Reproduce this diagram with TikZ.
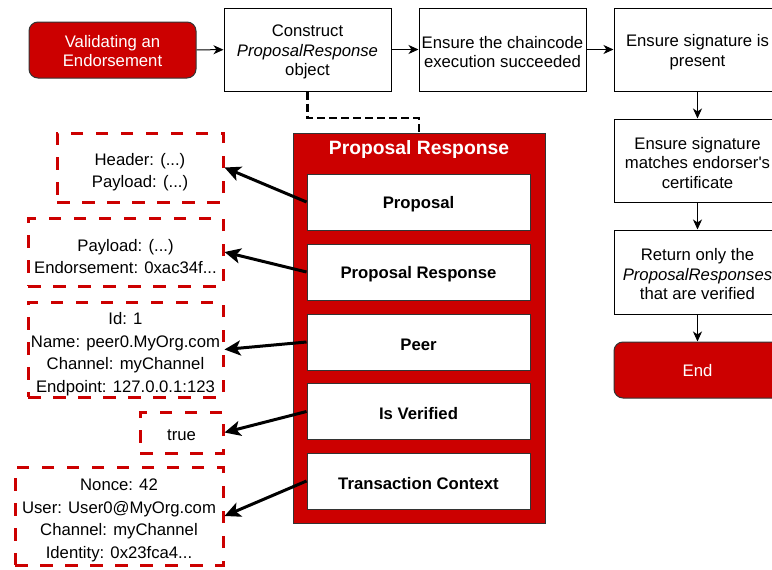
\documentclass[tikz,border=0pt]{standalone}
\usepackage{fontspec}
\setmainfont{Liberation Sans}
\usetikzlibrary{arrows.meta}
\definecolor{hfred}{HTML}{CC0000}
\definecolor{edgegray}{HTML}{333333}
\begin{document}
\begin{tikzpicture}[x=1pt,y=-1pt,
  txt/.style={inner sep=0pt, align=center, font=\fontsize{16.7}{19.5}\selectfont},
  flowtxt/.style={txt, yshift=-2.5pt},
  flowbox/.style={draw=black, line width=1pt, fill=white, inner sep=0pt, minimum width=167pt, minimum height=83pt},
  terminal/.style={draw=edgegray, line width=1pt, fill=hfred, inner sep=0pt, rounded corners=9pt, minimum width=167pt, minimum height=56pt},
  termtxt/.style={txt, text=white, yshift=-1pt},
  field/.style={draw=edgegray, line width=1pt, fill=white, inner sep=0pt, minimum width=223pt, minimum height=56pt},
  fieldtxt/.style={txt, font=\fontsize{16.7}{19.5}\selectfont\bfseries, yshift=-2.5pt},
  valuebox/.style={draw=hfred, line width=3pt, dash pattern=on 12.5pt off 12.5pt, inner sep=0pt},
  valuetxt/.style={txt, font=\fontsize{16.7}{22.5}\selectfont, yshift=-4.5pt},
  flow/.style={draw=black, line width=1pt, -{Stealth[length=10pt,width=9pt,inset=3pt]}},
  link/.style={draw=black, line width=3pt, -{Stealth[length=16pt,width=15pt,inset=4pt]}},
]
\useasboundingbox (0,0) rectangle (772,570);

% main flow
\node[terminal, label={[termtxt]center:{Validating an\\Endorsement}}] (val) at (112.5,50) {};
\node[flowbox, label={[flowtxt]center:{Construct\\\textit{ProposalResponse}\\object}}] (construct) at (307.5,49.5) {};
\node[flowbox, label={[flowtxt]center:{Ensure the chaincode\\execution succeeded}}] (chain) at (502.5,49.5) {};
\node[flowbox, label={[flowtxt]center:{Ensure signature is\\present}}] (present) at (697.5,49.5) {};
\node[flowbox, label={[flowtxt]center:{Ensure signature\\matches endorser\textquotesingle s\\certificate}}] (matches) at (697.5,160.5) {};
\node[flowbox, minimum height=84pt, label={[flowtxt]center:{Return only the\\\textit{ProposalResponses}\\that are verified}}] (ret) at (697.5,272) {};
\node[terminal, label={[termtxt]center:End}] (end) at (697.5,370) {};

\draw[flow] (val) -- (construct);
\draw[flow] (construct) -- (chain);
\draw[flow] (chain) -- (present);
\draw[flow] (present) -- (matches);
\draw[flow] (matches) -- (ret);
\draw[flow] (ret) -- (end);

% the ProposalResponse object and its fields
\node[draw=edgegray, fill=hfred, line width=1pt, minimum width=252pt, minimum height=390pt, inner sep=0pt] (container) at (419,328) {};
\node[font=\fontsize{19.3}{22}\selectfont\bfseries, text=white, inner sep=0pt] (title) at (419,150) {Proposal Response};
\node[field, label={[fieldtxt]center:Proposal}] (fproposal) at (418.5,202) {};
\node[field, label={[fieldtxt]center:Proposal Response}] (fresponse) at (418.5,272) {};
\node[field, label={[fieldtxt]center:Peer}] (fpeer) at (418.5,342) {};
\node[field, label={[fieldtxt]center:Is Verified}] (fverified) at (418.5,411.5) {};
\node[field, label={[fieldtxt]center:Transaction Context}] (fcontext) at (418.5,481) {};

\coordinate (bend) at (419,118);
\draw[black, line width=2.5pt, dash pattern=on 8pt off 4pt] (construct.south) |- (bend) -- (container.north);

% example values
\node[valuebox, minimum width=166pt, minimum height=69pt, label={[valuetxt]center:{Header: (...)\\Payload: (...)}}] (vproposal) at (140,167.5) {};
\node[valuebox, minimum width=195pt, minimum height=68pt, label={[valuetxt]center:{Payload: (...)\\Endorsement: 0xac34f...}}] (vresponse) at (125.5,252) {};
\node[valuebox, minimum width=195pt, minimum height=95pt, label={[valuetxt]center:{Id: 1\\Name: peer0.MyOrg.com\\Channel: myChannel\\Endpoint: 127.0.0.1:123}}] (vpeer) at (125.5,349.5) {};
\node[valuebox, minimum width=83pt, minimum height=41pt, label={[valuetxt, yshift=2pt]center:true}] (vverified) at (181.5,432.5) {};
\node[valuebox, minimum width=208pt, minimum height=98pt, label={[valuetxt]center:{Nonce: 42\\User: User0@MyOrg.com\\Channel: myChannel\\Identity: 0x23fca4...}}] (vcontext) at (119,516) {};

\draw[link] (fproposal.west) -- (vproposal.east);
\draw[link] (fresponse.west) -- (vresponse.east);
\draw[link] (fpeer.west) -- (vpeer.east);
\draw[link] (fverified.west) -- (vverified.east);
\draw[link] (fcontext.west) -- (vcontext.east);
\end{tikzpicture}
\end{document}
